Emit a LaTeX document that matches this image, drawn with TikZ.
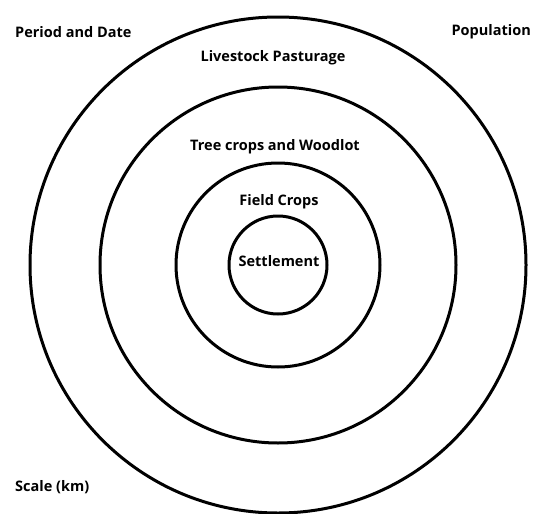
\documentclass[tikz,border=0pt]{standalone}
\usepackage{fontspec}
\setmainfont{Open Sans}
\usetikzlibrary{positioning}

\begin{document}
\begin{tikzpicture}[x=1pt, y=-1pt,
    ring/.style={line width=3pt, black},
    zonelabel/.style={font=\bfseries\fontsize{14.5}{16}\selectfont, inner sep=0pt}]
    \useasboundingbox (0,0) rectangle (533,514);

    % Rings
    \foreach \r in {49, 102, 178, 248} {
        \draw[ring] (278,265) circle (\r);
    }

    % Zones
    \node[zonelabel] (settle) at (279,261) {Settlement};
    \node[zonelabel] (field) at (279,202) {Field Crops};
    \node[zonelabel] (tree) at (275,147) {Tree crops and Woodlot};
    \node[zonelabel] (live) at (273,58) {Livestock Pasturage};

    % Corner labels
    \node[zonelabel, anchor=west] (period) at (15,32) {Period and Date};
    \node[zonelabel, anchor=east] (popul) at (531,32) {Population};
    \node[zonelabel, anchor=west] (scale) at (15,487) {Scale (km)};
\end{tikzpicture}
\end{document}
